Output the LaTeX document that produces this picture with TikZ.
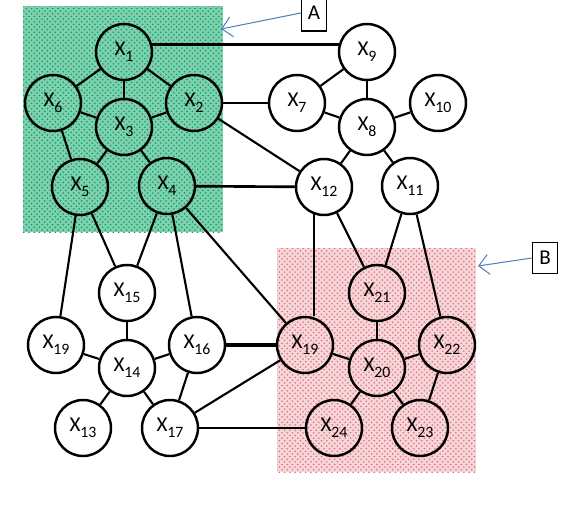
\documentclass[tikz,border=0pt]{standalone}
\usepackage{fontspec}
\setmainfont{Carlito}
\usetikzlibrary{arrows.meta, patterns}
\definecolor{regionA}{RGB}{0,160,95}
\definecolor{regionB}{RGB}{222,110,120}
\definecolor{pointercolor}{RGB}{85,130,190}
\newcommand{\xs}[1]{X\raisebox{-0.6ex}{\fontsize{9}{10}\selectfont #1}}

\begin{document}
\begin{tikzpicture}[
    x=0.02cm, y=-0.02cm,
    var/.style={draw, line width=1.4pt, circle, minimum size=1.12cm, inner sep=0pt, font=\fontsize{12}{14}\selectfont},
    link/.style={line width=1.2pt},
    tag/.style={draw, line width=0.8pt, minimum width=0.5cm, minimum height=0.62cm, inner sep=0pt, font=\fontsize{12}{14}\selectfont},
    pointer/.style={-{Straight Barb[length=2mm]}, draw=pointercolor, line width=0.6pt}
]
    \useasboundingbox (0,0) rectangle (580,504);

    % shaded regions
    \fill[regionA!50] (23,6) rectangle (223,232);
    \fill[pattern=crosshatch dots, pattern color=regionA] (23,6) rectangle (223,232);
    \fill[regionB!28] (277,248) rectangle (476,472);
    \fill[pattern=crosshatch dots, pattern color=regionB] (277,248) rectangle (476,472);

    % variables
    \node[var] (x1) at (124,52) {\xs{1}};
    \node[var] (x6) at (53,103) {\xs{6}};
    \node[var] (x3) at (124,127) {\xs{3}};
    \node[var] (x2) at (194,103) {\xs{2}};
    \node[var] (x5) at (80,187) {\xs{5}};
    \node[var] (x4) at (167,186) {\xs{4}};
    \node[var] (x9) at (367,52) {\xs{9}};
    \node[var] (x7) at (297,103) {\xs{7}};
    \node[var] (x8) at (367,127) {\xs{8}};
    \node[var] (x10) at (438,103) {\xs{10}};
    \node[var] (x12) at (324,187) {\xs{12}};
    \node[var] (x11) at (410,186) {\xs{11}};
    \node[var] (x15) at (127,293) {\xs{15}};
    \node[var] (x19a) at (56,345) {\xs{19}};
    \node[var] (x14) at (127,368) {\xs{14}};
    \node[var] (x16) at (197,345) {\xs{16}};
    \node[var] (x13) at (83,428) {\xs{13}};
    \node[var] (x17) at (170,428) {\xs{17}};
    \node[var] (x21) at (377,293) {\xs{21}};
    \node[var] (x19b) at (305,345) {\xs{19}};
    \node[var] (x20) at (377,368) {\xs{20}};
    \node[var] (x22) at (447,345) {\xs{22}};
    \node[var] (x24) at (334,428) {\xs{24}};
    \node[var] (x23) at (420,428) {\xs{23}};

    % links
    \draw[link, line width=1.5pt] (x1.15) -- (x9.165);
    \draw[link] (x1) -- (x6);
    \draw[link] (x1) -- (x3);
    \draw[link] (x1) -- (x2);
    \draw[link] (x6) -- (x3);
    \draw[link] (x3) -- (x2);
    \draw[link] (x6) -- (x5);
    \draw[link] (x3) -- (x5);
    \draw[link] (x3) -- (x4);
    \draw[link] (x2) -- (x7);
    \draw[link] (x2) -- (x12);
    \draw[link] (x9) -- (x7);
    \draw[link] (x9) -- (x8);
    \draw[link] (x7) -- (x8);
    \draw[link] (x8) -- (x10);
    \draw[link] (x8) -- (x12);
    \draw[link] (x8) -- (x11);
    \draw[link, line width=1.5pt] (x4) -- (x12);
    \draw[link] (x5) -- (x19a);
    \draw[link] (x5) -- (x15);
    \draw[link] (x4) -- (x15);
    \draw[link] (x4) -- (x16);
    \draw[link] (x4) -- (x19b);
    \draw[link] (x12.250) -- (x12.250 |- x19b.north);
    \draw[link] (x12) -- (x21);
    \draw[link] (x11) -- (x21);
    \draw[link] (x11) -- (x22);
    \draw[link] (x15) -- (x14);
    \draw[link] (x19a) -- (x14);
    \draw[link] (x14) -- (x16);
    \draw[link] (x14) -- (x13);
    \draw[link] (x14) -- (x17);
    \draw[link] (x16) -- (x17);
    \draw[link, line width=1.8pt] (x16) -- (x19b);
    \draw[link] (x17) -- (x19b);
    \draw[link] (x17) -- (x24);
    \draw[link] (x19b) -- (x20);
    \draw[link] (x21) -- (x20);
    \draw[link] (x20) -- (x22);
    \draw[link] (x20) -- (x24);
    \draw[link] (x20) -- (x23);
    \draw[link] (x22) -- (x23);

    % region tags
    \node[tag, minimum height=0.72cm] (tagA) at (314,13) {A};
    \node[tag] (tagB) at (545,258) {B};
    \coordinate (tipA) at (221,29);
    \coordinate (tipB) at (478,266);
    \draw[pointer] (tagA.west) -- (tipA);
    \draw[pointer] (tagB.west) -- (tipB);
\end{tikzpicture}
\end{document}
